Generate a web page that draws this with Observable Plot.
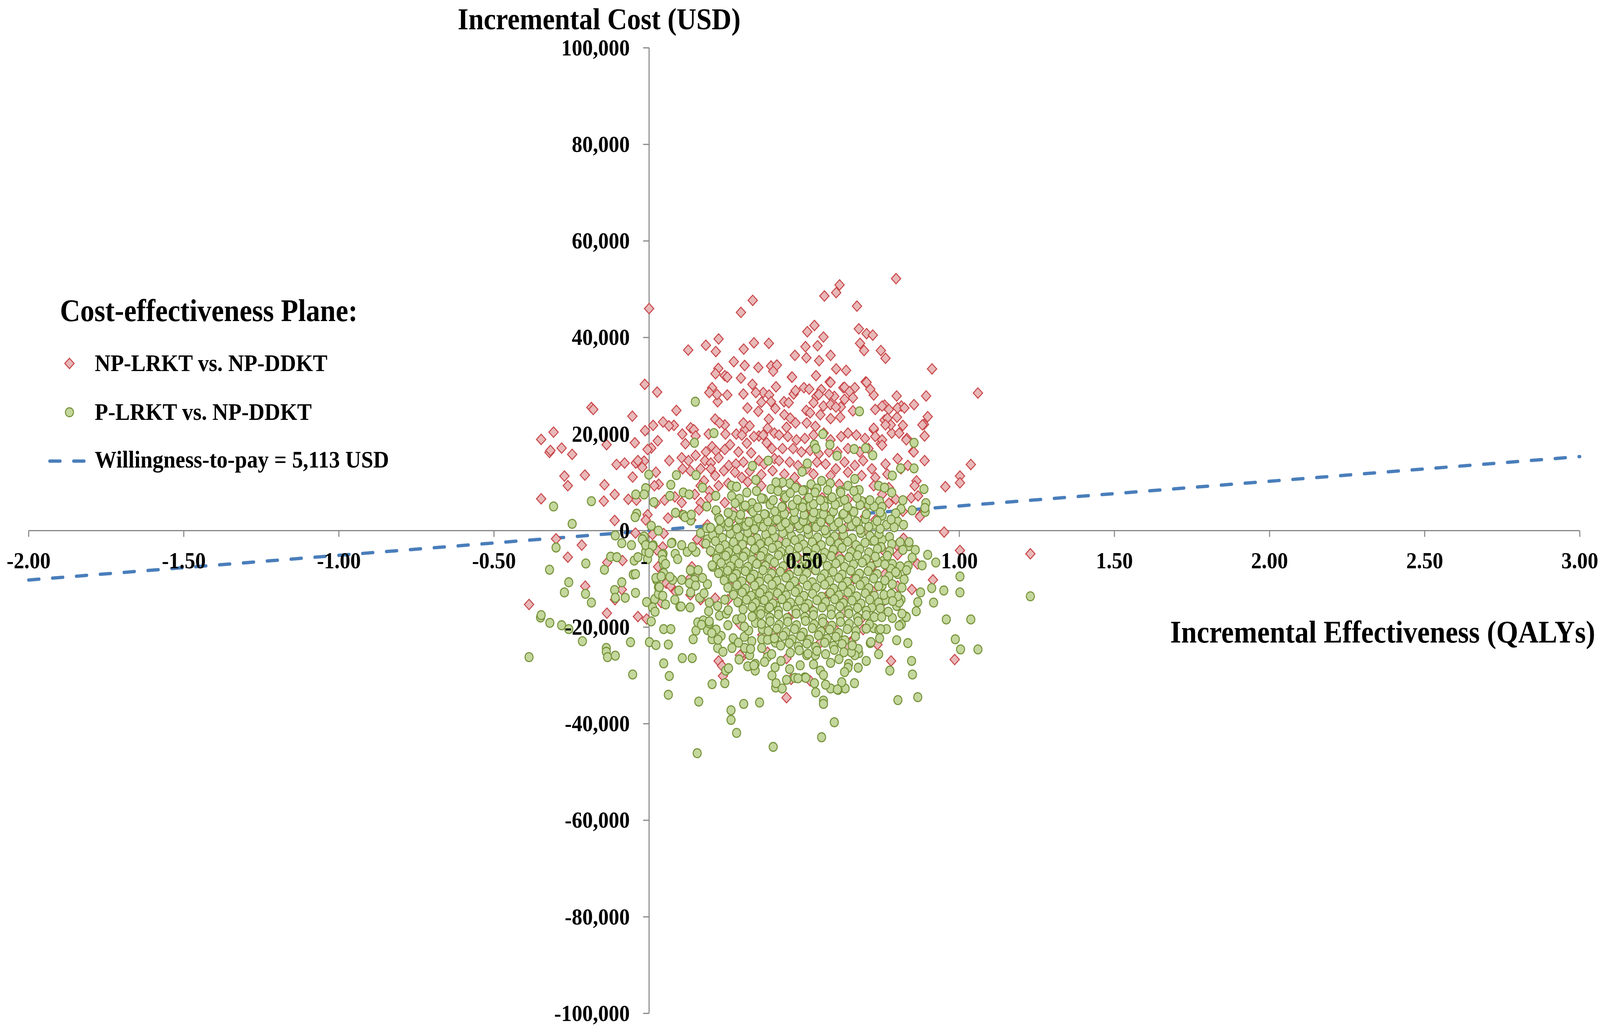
<!DOCTYPE html>
<html>
<head>
<meta charset="utf-8">
<script src="https://cdn.jsdelivr.net/npm/d3@7"></script>
<script src="https://cdn.jsdelivr.net/npm/@observablehq/plot@0.6"></script>
<style>
html,body{margin:0;padding:0;background:#ffffff;width:100%;height:100%;overflow:hidden;}
#chart{width:100vw;height:100vh;overflow:hidden;}
</style>
</head>
<body>
<div id="chart"></div>
<script>
// ---------- axes ----------
const xTicks = [-2, -1.5, -1, -0.5, 0, 0.5, 1, 1.5, 2, 2.5, 3];
const xTickLabels = ["-2.00", "-1.50", "-1.00", "-0.50", "-", "0.50", "1.00", "1.50", "2.00", "2.50", "3.00"];
const yTicks = [100000, 80000, 60000, 40000, 20000, 0, -20000, -40000, -60000, -80000, -100000];
const yTickLabels = ["100,000", "80,000", "60,000", "40,000", "20,000", "0", "-20,000", "-40,000", "-60,000", "-80,000", "-100,000"];

// ---------- willingness-to-pay line (5,113 USD per QALY) ----------
const wtpEff = [-2, 3];
const wtpCost = [-10226, 15339];

// ---------- NP-LRKT vs. NP-DDKT  [incremental QALYs, incremental cost in thousand USD] ----------
const npOuter = [[0.796,52.2],[0.614,50.9],[0.603,49.3],[0.565,48.6],[0.334,47.7],[0.296,45.2],[0.0,46.0],[0.670,46.5],[0.533,42.5],[0.510,41.2],[0.676,41.8],[0.701,40.8],[0.721,40.5],[0.562,40.1],[0.224,39.7],[0.338,38.9],[0.386,38.8],[0.183,38.4],[0.543,38.3],[0.680,38.8],[0.504,38.1],[0.126,37.4],[0.215,37.1],[0.305,37.6],[0.693,37.3],[0.747,37.3],[0.470,36.3],[0.507,35.8],[0.585,36.3],[0.762,35.7],[0.548,35.2],[0.273,35.0],[0.308,34.2],[0.352,33.8],[0.393,34.1],[0.412,34.3],[0.912,33.5],[0.603,33.5],[0.635,33.2],[0.223,33.6],[0.214,32.5],[0.244,32.1],[0.252,31.8],[0.460,31.8],[0.538,32.1],[0.400,33.0],[0.296,31.6],[0.582,30.8],[0.698,30.8],[-0.014,30.3],[0.333,30.3],[0.409,29.8],[0.499,29.6],[0.203,29.6],[0.555,29.2],[0.626,29.6],[0.663,29.6],[1.060,28.5],[0.026,28.7],[0.252,28.1],[0.304,28.3],[0.368,28.6],[0.466,28.3],[0.724,28.1],[0.798,27.9],[0.893,27.9],[0.597,27.8],[0.539,27.8],[0.221,26.7],[0.435,26.7],[0.759,26.0],[0.813,25.8],[0.854,26.1],[-0.186,25.5],[-0.180,25.1],[0.562,25.8],[0.618,25.6],[0.317,25.4],[-0.054,23.7],[0.088,24.9],[0.352,24.7],[0.507,24.9],[0.898,23.6],[0.799,23.5],[0.213,23.1],[0.386,23.1],[0.759,22.9],[0.045,22.5],[0.013,21.8],[0.080,21.8],[0.244,21.9],[0.134,21.3],[0.308,20.9],[0.443,21.4],[0.886,22.0],[-0.308,20.4],[-0.348,18.9],[-0.013,20.7],[0.107,20.0],[0.192,20.0],[0.354,19.6],[0.724,20.9],[0.782,20.2],[0.888,19.6],[0.831,19.1],[-0.137,17.8],[-0.046,18.2],[0.028,18.6],[0.117,18.0],[0.203,17.4],[0.261,17.8],[-0.282,17.1],[-0.321,16.2],[-0.318,16.6],[-0.248,15.8],[0.007,17.1],[0.851,16.4],[0.747,18.0],[-0.079,14.0],[-0.105,13.7],[-0.043,14.0],[-0.016,14.4],[0.065,14.5],[0.888,14.5],[1.037,13.7],[-0.273,11.3],[-0.207,11.5],[-0.053,11.1],[-0.144,9.5],[-0.262,9.3],[1.002,11.3],[1.002,9.9],[0.955,9.1],[-0.348,6.6],[-0.111,7.5],[-0.146,6.1],[-0.067,6.5],[0.021,5.7],[0.875,3.2],[-0.111,2.1],[0.951,-0.3],[-0.300,-1.7],[-0.217,-3.0],[-0.262,-5.5],[-0.086,-6.2],[1.002,-4.1],[0.915,-10.2],[-0.206,-11.5],[0.847,-12.2],[-0.387,-15.3],[-0.136,-17.1],[-0.036,-17.8],[0.985,-26.7],[0.780,-27.0],[0.443,-34.6],[0.736,-23.6],[0.649,-23.1],[0.224,-27.0],[0.238,-30.1],[0.296,-26.4],[0.443,-26.5]];
const npLowerLeft = [[-0.135,-6.6],[-0.088,-12.2],[-0.110,-14.3],[-0.008,-18.3],[-0.044,-0.5],[0.011,-0.8],[0.047,-0.6],[0.044,-3.4],[0.025,-4.0],[0.029,-7.5],[0.055,-10.9],[0.069,-11.5],[0.086,-12.7],[0.039,-14.9],[0.155,-1.8],[0.174,-2.6],[0.199,-4.3],[0.138,-7.5],[0.133,-9.8],[0.152,-9.6],[0.133,-13.3],[0.166,-14.3],[0.213,-14.0],[0.254,-14.3],[0.288,-1.8],[0.307,-2.4],[0.329,-1.3],[0.343,-5.9],[0.260,-8.5],[0.360,-12.0],[0.398,-7.2],[0.293,-19.4],[0.365,-21.6],[0.401,-21.3],[0.382,-25.2],[0.293,-25.8],[0.235,-28.0]];
const npLowerRight = [[0.820,-1.6],[0.798,-3.0],[0.801,-5.0],[0.757,-4.2],[1.229,-4.8],[0.865,-6.9],[0.801,-11.5],[0.665,-3.4],[0.613,-5.3],[0.450,-8.8],[0.721,-7.4],[0.682,-18.4],[0.748,-15.2],[0.599,-20.4],[0.652,-23.2],[0.638,-24.0],[0.458,-30.8],[0.519,-31.1],[0.552,-23.2],[0.630,-16.8]];
const npUpperLeft = [[0.194,28.6],[0.219,28.2],[0.344,28.6],[0.387,28.1],[0.362,26.6],[0.393,26.7],[0.407,25.3],[0.064,21.7],[0.144,20.9],[0.227,22.3],[0.304,22.3],[0.324,21.7],[0.382,21.2],[0.150,19.6],[0.246,20.0],[0.281,20.0],[0.299,19.8],[0.338,19.5],[0.368,19.8],[0.404,20.2],[0.315,18.1],[0.379,18.2],[0.183,16.3],[0.216,16.5],[0.244,16.8],[0.288,16.3],[0.329,16.1],[0.396,17.0],[-0.005,16.8],[0.105,15.1],[0.127,14.5],[0.150,15.6],[0.180,14.5],[0.199,14.0],[0.224,15.1],[0.257,13.5],[0.280,13.8],[0.304,14.2],[0.354,14.5],[0.371,13.8],[0.404,14.9],[-0.036,14.5],[-0.022,13.1],[0.022,12.1],[0.133,12.4],[0.166,12.8],[0.199,12.8],[0.108,12.8],[0.177,10.3],[0.213,11.4],[0.241,12.4],[0.277,12.1],[0.299,11.0],[0.324,12.3],[0.362,11.6],[0.398,12.4],[0.166,9.3],[0.194,8.2],[0.224,9.3],[0.255,9.8],[0.318,10.1],[0.362,9.3],[0.031,9.6],[0.017,9.3],[0.147,7.5],[0.083,7.0],[0.105,5.8],[0.166,5.8],[0.244,5.8],[0.321,4.7],[0.050,6.3],[-0.041,6.3],[0.194,6.8],[0.271,4.0],[0.161,4.3],[0.216,4.0],[0.061,2.6],[-0.005,3.3],[-0.011,2.2],[0.136,2.2],[0.188,1.2],[0.266,2.2],[0.315,1.7],[0.365,2.2],[0.105,3.3]];
const npUpperRight = [[0.461,31.8],[0.585,30.7],[0.630,29.7],[0.646,28.8],[0.701,30.7],[0.713,29.3],[0.472,29.0],[0.516,29.3],[0.547,28.2],[0.580,28.2],[0.630,27.2],[0.657,27.5],[0.450,26.5],[0.530,26.5],[0.585,26.1],[0.602,25.6],[0.616,23.5],[0.657,24.8],[0.729,25.1],[0.751,25.8],[0.773,25.1],[0.801,25.4],[0.823,25.4],[0.881,21.9],[0.436,24.0],[0.455,23.3],[0.519,24.4],[0.552,24.0],[0.585,23.2],[0.508,22.3],[0.472,22.3],[0.536,21.6],[0.768,23.3],[0.779,21.9],[0.818,21.8],[0.762,21.9],[0.724,21.2],[0.419,19.8],[0.447,19.5],[0.475,18.8],[0.502,19.1],[0.530,19.8],[0.563,20.2],[0.585,18.8],[0.619,19.5],[0.641,20.2],[0.668,19.8],[0.696,19.1],[0.729,19.5],[0.751,18.8],[0.806,20.2],[0.829,18.8],[0.430,17.0],[0.464,17.0],[0.491,16.3],[0.519,16.6],[0.547,15.9],[0.580,16.3],[0.607,16.3],[0.641,17.0],[0.679,16.3],[0.707,17.0],[0.751,17.7],[0.801,14.9],[0.853,16.3],[0.419,14.5],[0.453,14.2],[0.480,13.5],[0.508,12.8],[0.541,14.2],[0.569,13.8],[0.602,12.8],[0.630,14.2],[0.663,13.5],[0.690,14.5],[0.718,12.8],[0.762,13.8],[0.812,12.8],[0.834,13.5],[0.436,11.7],[0.469,11.0],[0.530,11.7],[0.585,11.4],[0.641,12.1],[0.685,11.4],[0.729,11.0],[0.768,11.7],[0.862,10.3],[0.856,9.3],[0.419,9.3],[0.475,9.3],[0.530,8.9],[0.613,9.6],[0.668,8.2],[0.724,9.3],[0.773,8.9],[0.795,6.5],[0.845,6.8],[0.867,7.2],[0.436,6.5],[0.502,6.1],[0.558,6.8],[0.641,6.5],[0.696,5.7],[0.751,7.5],[0.773,5.7],[0.873,2.9],[0.818,4.0],[0.442,4.0],[0.502,3.6],[0.563,4.0],[0.630,3.6],[0.696,2.9],[0.729,2.2]];
const npUnderCore = [[0.30,-3.5],[0.36,-6.0],[0.42,-2.0],[0.48,-5.5],[0.55,-3.0],[0.62,-1.0],[0.70,-6.0],[0.33,-10.5],[0.40,-14.0],[0.47,-11.0],[0.53,-8.0],[0.58,-13.0],[0.66,-10.0],[0.72,-12.5],[0.45,-18.0],[0.52,-16.0],[0.57,-19.5],[0.63,-14.5],[0.69,-20.5],[0.50,-22.0],[0.40,-8.5],[0.26,-11.5],[0.76,-9.0],[0.35,-17.0],[0.61,-6.5],[0.46,1.0],[0.52,0.5],[0.58,2.0],[0.64,1.0],[0.70,0.0],[0.34,0.5],[0.40,1.5]];

// ---------- P-LRKT vs. NP-DDKT  [incremental QALYs, incremental cost in thousand USD] ----------
const pOuter = [[0.149,26.7],[0.678,24.7],[0.209,20.2],[0.146,18.2],[0.560,20.0],[0.533,17.8],[0.583,17.8],[0.661,16.9],[0.854,18.2],[0.698,17.1],[0.721,15.6],[0.606,15.5],[0.384,14.5],[0.510,13.9],[0.333,13.4],[0.811,12.9],[0.854,12.9],[0.784,11.4],[0.493,12.2],[-0.001,11.6],[0.088,11.5],[0.151,11.5],[0.886,8.6],[0.892,5.7],[0.890,3.9],[-0.308,5.0],[-0.186,6.1],[-0.248,1.4],[0.015,5.9],[-0.043,7.5],[-0.011,8.8],[-0.016,7.5],[0.070,9.5],[0.067,7.2],[0.110,7.9],[0.129,7.5],[0.085,3.7],[-0.040,3.5],[-0.045,2.8],[0.111,3.2],[0.134,2.1],[0.186,5.0],[0.215,7.2],[-0.109,-1.0],[-0.088,-2.6],[-0.300,-3.5],[-0.057,-3.0],[-0.016,-2.3],[0.007,1.0],[-0.016,-1.2],[0.030,0.0],[0.013,-3.0],[0.074,-2.5],[0.105,-3.0],[-0.011,-4.4],[-0.005,-5.9],[0.045,-4.8],[0.084,-4.8],[0.123,-4.4],[0.151,-4.4],[-0.204,-6.8],[-0.321,-8.1],[-0.144,-8.1],[-0.124,-5.4],[-0.104,-5.5],[-0.048,-6.2],[-0.051,-9.1],[0.047,-7.0],[0.047,-8.8],[0.024,-10.2],[0.030,-11.7],[0.076,-10.2],[0.105,-10.2],[0.136,-8.4],[0.146,-10.2],[0.096,-12.4],[0.134,-12.8],[-0.259,-10.7],[-0.273,-12.8],[-0.205,-13.1],[-0.186,-14.9],[-0.111,-12.3],[-0.109,-13.9],[-0.077,-13.9],[-0.044,-12.9],[-0.008,-14.8],[0.018,-14.2],[0.030,-13.1],[0.053,-15.3],[0.099,-15.7],[0.132,-15.9],[-0.350,-18.0],[-0.348,-17.5],[-0.320,-19.1],[-0.282,-19.6],[-0.259,-20.4],[0.007,-18.8],[0.047,-20.4],[0.070,-20.4],[-0.215,-22.9],[-0.060,-23.1],[0.001,-23.1],[0.022,-23.7],[0.062,-23.6],[-0.138,-24.3],[-0.138,-25.1],[-0.134,-26.2],[-0.109,-25.9],[-0.387,-26.2],[-0.053,-29.8],[0.047,-27.5],[0.065,-30.1],[0.107,-26.4],[0.139,-26.4],[0.142,-22.5],[0.151,-20.7],[0.157,-19.0],[0.175,-18.6],[0.062,-34.0],[0.160,-35.4],[0.203,-31.8],[0.244,-31.6],[0.247,-29.0],[0.256,-28.5],[0.264,-37.2],[0.264,-39.2],[0.282,-41.9],[0.305,-35.9],[0.356,-35.6],[0.155,-46.1],[0.400,-44.8],[0.556,-42.8],[0.597,-39.7],[0.562,-35.2],[0.562,-35.9],[0.537,-33.5],[0.802,-35.1],[0.866,-34.5],[0.849,-29.8],[0.846,-27.0],[0.776,-29.0],[0.798,-22.7],[0.834,-23.3],[1.060,-24.6],[1.004,-24.6],[0.987,-22.5],[1.037,-18.4],[0.958,-18.4],[1.002,-12.8],[1.002,-9.5],[0.950,-12.4],[0.917,-14.9],[0.911,-11.9],[0.875,-12.8],[0.866,-14.8],[0.861,-16.7],[0.880,-7.2],[0.898,-5.0],[0.924,-6.6],[0.828,-17.8],[0.813,-19.4],[0.724,-20.2],[0.741,-20.6],[0.713,-23.3],[0.676,-25.4],[0.643,-27.6],[0.662,-31.6],[0.632,-32.7],[0.609,-33.0],[0.585,-32.7],[0.533,-31.6],[0.502,-30.4],[0.470,-30.5],[0.443,-30.9],[0.408,-32.5],[0.429,-32.7],[0.406,-28.3],[0.381,-26.2],[0.342,-29.0],[0.342,-27.6],[0.290,-26.7],[0.267,-24.3],[0.308,-24.3],[0.331,-22.9],[0.363,-24.3],[0.363,-22.5],[0.203,-22.5],[0.221,-24.3],[0.238,-25.1],[0.232,-21.8],[0.188,-20.6],[0.169,-19.5],[0.192,-16.7],[1.229,-13.6]];
const pLowerRight = [[0.743,-22.3],[0.715,-23.1],[0.765,-20.4],[0.746,-20.4],[0.806,-19.7],[0.829,-17.9],[0.815,-17.2],[0.784,-18.1],[0.771,-16.8],[0.798,-15.6],[0.812,-14.3],[0.806,-14.9],[0.801,-13.6],[0.762,-14.4],[0.726,-17.9],[0.718,-15.9],[0.729,-14.3],[0.757,-13.3],[0.801,-9.0],[0.809,-7.4],[0.784,-6.9],[0.779,-7.9],[0.754,-6.3],[0.737,-6.6],[0.718,-2.1],[0.751,-1.9],[0.748,-3.4],[0.809,-2.4],[0.837,-3.2],[0.818,-4.0],[0.773,-9.5],[0.751,-11.4],[0.784,-11.1],[0.674,-24.5],[0.663,-25.8],[0.652,-25.2],[0.674,-28.4],[0.641,-28.4],[0.630,-29.3],[0.621,-31.4],[0.607,-32.9],[0.569,-31.9],[0.552,-29.0],[0.530,-27.7],[0.505,-30.5],[0.480,-30.6],[0.508,-25.8],[0.536,-25.8],[0.453,-28.7],[0.372,-27.2],[0.425,-27.0],[0.487,-27.9],[0.585,-27.4],[0.612,-26.6],[0.318,-28.1],[0.395,-25.6],[0.562,-29.9],[0.700,-27.0],[0.740,-25.6]];
const pLowerLeft = [[-0.088,-10.7],[-0.044,-9.0],[-0.036,-5.5],[0.011,-15.9],[0.019,-16.8],[0.194,-19.2],[0.216,-20.5],[0.202,-21.2],[0.222,-22.6],[0.271,-22.3],[0.288,-23.2],[0.338,-27.9],[0.324,-25.8],[0.327,-24.5],[0.396,-30.0],[0.409,-31.6],[0.307,-22.0],[0.321,-20.7],[0.307,-19.9],[0.282,-18.4],[0.254,-19.6],[0.227,-17.6],[0.249,-17.2],[0.340,-17.6],[0.365,-20.4],[0.382,-22.6],[0.407,-23.2],[0.343,-19.1],[-0.022,-1.8],[-0.011,-3.0],[0.011,-3.2],[0.0,-4.6],[0.042,-5.0],[0.044,-6.1],[0.053,-6.9],[0.022,-9.8],[0.033,-11.7],[0.039,-9.5],[0.067,-9.6],[0.044,-13.5],[0.083,-14.3],[0.103,-15.7],[0.072,-2.6],[0.139,-3.4],[0.092,-5.9],[0.133,-8.2],[0.158,-8.2],[0.130,-10.9],[0.150,-11.4],[0.163,-13.9],[0.177,-13.0],[0.188,-11.1],[0.172,-9.8],[0.194,-14.9],[0.205,-7.5],[0.216,-5.0],[0.244,-4.3],[0.266,-3.4],[0.282,-5.6],[0.255,-6.2],[0.232,-8.5],[0.260,-9.8],[0.293,-10.7],[0.271,-12.7],[0.244,-14.3],[0.221,-15.6],[0.255,-16.5],[0.288,-14.9],[0.315,-13.9],[0.343,-13.0],[0.365,-14.3],[0.326,-9.8],[0.354,-9.5],[0.371,-7.5],[0.382,-5.6],[0.393,-9.8],[0.398,-12.3],[0.382,-16.2],[0.354,-16.8],[0.409,-15.6],[0.326,-5.0],[0.349,-3.4],[0.376,-2.1],[0.304,-1.8],[0.288,-8.2],[0.321,-7.9],[0.221,-1.4],[0.188,-1.8],[0.166,-0.5],[0.194,-18.8],[0.299,-18.1]];
const pUpperRight = [[0.538,17.0],[0.556,10.3],[0.584,9.8],[0.663,10.7],[0.453,9.8],[0.472,8.9],[0.522,9.6],[0.500,8.4],[0.541,8.7],[0.616,8.2],[0.641,9.3],[0.677,8.4],[0.740,9.3],[0.759,8.9],[0.782,7.9],[0.889,4.7],[0.818,6.3],[0.812,4.5],[0.848,4.2],[0.743,6.1],[0.751,4.9],[0.707,5.4],[0.685,6.1],[0.657,4.0],[0.585,6.5],[0.563,6.1],[0.613,5.9],[0.519,5.0],[0.494,5.7],[0.472,4.7],[0.436,7.3],[0.430,5.0],[0.547,3.5],[0.585,3.1],[0.624,3.3],[0.464,2.2],[0.508,2.2],[0.536,1.2],[0.602,1.2],[0.674,1.5],[0.726,1.2],[0.765,1.2],[0.801,1.9],[0.820,1.2],[0.751,3.1],[0.795,3.6],[0.419,2.9],[0.430,10.0],[0.453,0.5],[0.486,0.5]];
const pUpperLeft = [[0.344,10.5],[0.409,10.0],[0.172,8.9],[0.266,9.3],[0.282,9.1],[0.266,7.2],[0.291,6.6],[0.277,5.7],[0.315,7.9],[0.346,8.2],[0.368,6.6],[0.332,5.7],[0.390,5.7],[0.393,8.6],[0.216,4.2],[0.304,4.9],[0.332,4.3],[0.376,3.3],[0.271,3.1],[0.299,1.9],[0.337,1.9],[0.224,2.6],[0.232,1.5],[0.116,2.8],[0.136,3.3],[0.186,0.5],[0.260,0.6],[0.288,0.6],[0.360,1.4],[0.404,2.2]];
const pCore = [
[0.205,-0.9],[0.236,-1.5],[0.262,-0.6],[0.291,-1.2],[0.318,-0.4],[0.347,-1.6],[0.376,-0.8],[0.404,-1.3],[0.431,-0.5],[0.459,-1.1],[0.487,-1.7],[0.514,-0.7],[0.543,-1.4],[0.571,-0.6],[0.598,-1.2],[0.627,-0.9],[0.655,-1.6],[0.683,-0.5],[0.712,-1.1],[0.741,-0.7],[0.775,-1.3],
[0.183,-2.7],[0.214,-2.2],[0.245,-3.0],[0.272,-2.4],[0.301,-2.9],[0.329,-2.1],[0.358,-2.8],[0.386,-2.3],[0.415,-3.1],[0.442,-2.5],[0.470,-2.0],[0.498,-2.9],[0.526,-2.4],[0.555,-3.0],[0.583,-2.2],[0.611,-2.7],[0.640,-2.3],[0.667,-3.0],[0.696,-2.5],[0.726,-2.1],[0.782,-2.8],[0.838,-2.4],
[0.198,-4.2],[0.227,-3.7],[0.256,-4.4],[0.283,-3.9],[0.312,-4.5],[0.340,-3.8],[0.369,-4.3],[0.397,-3.6],[0.425,-4.4],[0.453,-4.0],[0.481,-3.5],[0.509,-4.3],[0.537,-3.8],[0.566,-4.6],[0.594,-4.0],[0.622,-3.6],[0.651,-4.4],[0.679,-3.9],[0.708,-4.5],[0.736,-3.8],[0.775,-4.3],[0.858,-4.0],
[0.218,-5.8],[0.247,-5.2],[0.275,-6.0],[0.304,-5.4],[0.332,-6.1],[0.360,-5.3],[0.389,-5.9],[0.417,-5.1],[0.446,-5.8],[0.474,-5.4],[0.502,-6.1],[0.530,-5.2],[0.559,-5.7],[0.587,-5.3],[0.616,-6.0],[0.644,-5.5],[0.672,-5.1],[0.700,-5.9],[0.729,-5.4],[0.768,-5.2],[0.848,-5.6],
[0.203,-7.2],[0.232,-6.7],[0.262,-7.4],[0.290,-6.8],[0.318,-7.5],[0.347,-6.9],[0.375,-7.3],[0.404,-6.6],[0.432,-7.4],[0.460,-6.9],[0.489,-7.6],[0.517,-7.0],[0.545,-6.6],[0.574,-7.3],[0.602,-6.8],[0.630,-7.5],[0.659,-7.0],[0.687,-6.6],[0.715,-7.4],[0.760,-7.0],[0.835,-7.3],
[0.224,-8.8],[0.253,-8.3],[0.281,-9.0],[0.310,-8.4],[0.338,-9.1],[0.367,-8.2],[0.395,-8.9],[0.423,-8.5],[0.452,-9.2],[0.480,-8.4],[0.508,-8.8],[0.537,-8.2],[0.565,-9.0],[0.593,-8.5],[0.622,-9.1],[0.650,-8.3],[0.678,-8.9],[0.706,-8.4],[0.735,-9.0],[0.795,-8.6],[0.830,-8.2],
[0.242,-10.3],[0.270,-9.8],[0.299,-10.5],[0.327,-9.9],[0.356,-10.6],[0.384,-10.0],[0.412,-10.4],[0.441,-9.7],[0.469,-10.5],[0.497,-10.1],[0.526,-10.7],[0.554,-9.9],[0.582,-10.4],[0.611,-9.8],[0.639,-10.6],[0.667,-10.0],[0.696,-10.5],[0.724,-9.9],[0.760,-10.3],[0.822,-10.1],
[0.254,-11.8],[0.283,-11.3],[0.311,-12.0],[0.340,-11.4],[0.368,-12.1],[0.396,-11.2],[0.425,-11.9],[0.453,-11.5],[0.481,-12.2],[0.510,-11.4],[0.538,-11.8],[0.566,-11.2],[0.595,-12.0],[0.623,-11.5],[0.651,-12.1],[0.680,-11.3],[0.708,-11.9],[0.740,-11.5],[0.815,-11.8],
[0.272,-13.3],[0.300,-12.8],[0.329,-13.5],[0.357,-12.9],[0.386,-13.6],[0.414,-13.0],[0.442,-13.4],[0.471,-12.7],[0.499,-13.5],[0.527,-13.1],[0.556,-13.7],[0.584,-12.9],[0.612,-13.4],[0.641,-12.8],[0.669,-13.6],[0.697,-13.0],[0.726,-13.5],[0.780,-13.1],
[0.286,-14.8],[0.314,-14.3],[0.343,-15.0],[0.371,-14.4],[0.399,-15.1],[0.428,-14.2],[0.456,-14.9],[0.484,-14.5],[0.513,-15.2],[0.541,-14.4],[0.569,-14.8],[0.598,-14.2],[0.626,-15.0],[0.654,-14.5],[0.683,-15.1],[0.711,-14.3],[0.740,-14.9],[0.785,-14.6],
[0.303,-16.3],[0.332,-15.8],[0.360,-16.5],[0.388,-15.9],[0.417,-16.6],[0.445,-15.7],[0.473,-16.4],[0.502,-16.0],[0.530,-16.7],[0.558,-15.9],[0.587,-16.3],[0.615,-15.7],[0.643,-16.5],[0.672,-16.0],[0.700,-16.6],[0.745,-16.1],
[0.332,-17.8],[0.360,-17.3],[0.389,-18.0],[0.417,-17.4],[0.445,-18.1],[0.474,-17.2],[0.502,-17.9],[0.530,-17.5],[0.559,-18.2],[0.587,-17.4],[0.615,-17.8],[0.644,-17.2],[0.672,-18.0],[0.700,-17.5],[0.750,-17.9],
[0.362,-19.3],[0.390,-18.8],[0.419,-19.5],[0.447,-18.9],[0.475,-19.6],[0.504,-18.7],[0.532,-19.4],[0.560,-19.0],[0.589,-19.7],[0.617,-18.9],[0.645,-19.3],[0.674,-18.8],[0.710,-19.4],
[0.384,-20.8],[0.412,-20.3],[0.441,-21.0],[0.469,-20.4],[0.497,-21.1],[0.526,-20.2],[0.554,-20.9],[0.582,-20.5],[0.611,-21.2],[0.639,-20.4],[0.667,-20.8],[0.700,-20.3],
[0.404,-22.3],[0.432,-21.8],[0.461,-22.5],[0.489,-21.9],[0.517,-22.6],[0.546,-21.7],[0.574,-22.4],[0.602,-22.0],[0.631,-22.7],[0.665,-21.9],
[0.424,-23.8],[0.452,-23.3],[0.481,-24.0],[0.509,-23.4],[0.537,-24.1],[0.566,-23.2],[0.594,-23.9],[0.622,-23.5],[0.655,-23.8],
[0.455,-25.3],[0.484,-24.8],[0.512,-25.5],[0.541,-24.9],[0.569,-25.6],[0.597,-24.7],[0.628,-25.2],
[0.198,0.6],[0.226,0.2],[0.255,0.9],[0.283,0.4],[0.312,1.0],[0.340,0.3],[0.368,0.8],[0.397,0.1],[0.425,0.9],[0.453,0.5],[0.482,1.1],[0.510,0.3],[0.538,0.7],[0.567,0.1],[0.595,0.9],[0.623,0.4],[0.652,1.0],[0.680,0.2],[0.708,0.8],[0.745,0.4],[0.790,0.7],
[0.228,2.2],[0.257,1.7],[0.290,2.4],[0.322,1.8],[0.351,2.5],[0.383,1.9],[0.412,2.3],[0.440,1.6],[0.469,2.4],[0.497,2.0],[0.526,2.6],[0.554,1.8],[0.582,2.3],[0.611,1.7],[0.640,2.5],[0.668,1.9],[0.697,2.4],[0.735,2.0],[0.780,2.3],
[0.255,3.7],[0.295,3.3],[0.335,3.9],[0.372,3.4],[0.405,4.0],[0.436,3.5],[0.468,3.9],[0.500,3.3],[0.531,3.8],[0.562,3.4],[0.594,4.0],[0.627,3.5],[0.660,3.9],[0.700,3.4],[0.745,3.8],
[0.310,5.2],[0.350,4.8],[0.390,5.4],[0.428,4.9],[0.462,5.3],[0.495,4.8],[0.530,5.5],[0.565,5.0],[0.600,5.4],[0.640,4.9],[0.680,5.3],[0.725,5.0],
[0.362,6.7],[0.400,6.3],[0.440,6.9],[0.478,6.4],[0.515,6.8],[0.552,6.3],[0.590,6.9],[0.630,6.4],[0.670,6.8],[0.712,6.3],
[0.415,8.2],[0.455,7.8],[0.495,8.3],[0.535,7.9],[0.575,8.4],[0.618,7.9],[0.660,8.2]
];

// ---------- texts ----------
const legendTitle = "Cost-effectiveness Plane:";
const seriesNames = ["NP-LRKT vs. NP-DDKT", "P-LRKT vs. NP-DDKT", "Willingness-to-pay = 5,113 USD"];
const xTitle = "Incremental Effectiveness (QALYs)";
const yTitle = "Incremental Cost (USD)";

// ---------- build ----------
const npData = [...npOuter, ...npLowerLeft, ...npLowerRight, ...npUpperLeft, ...npUpperRight, ...npUnderCore]
  .map(([e, c]) => ({eff: e, cost: c * 1000}));
const pData = [...pOuter, ...pLowerRight, ...pLowerLeft, ...pUpperRight, ...pUpperLeft, ...pCore]
  .map(([e, c]) => ({eff: e, cost: c * 1000}));
const wtpData = wtpEff.map((e, i) => ({eff: e, cost: wtpCost[i]}));
const xTickData = xTicks.map((v, i) => ({v, label: xTickLabels[i]}));
const yTickData = yTicks.map((v, i) => ({v, label: yTickLabels[i]}));

const axisGray = "#878787";
const redFill = "#e8b8b8", redStroke = "#c9474a";
const greenFill = "#c4d79c", greenStroke = "#76933a";
const blue = "#4a7ebb";
const font = "'Liberation Serif', 'Times New Roman', Times, serif";
const dash = {stroke: blue, strokeWidth: 8.5, strokeDasharray: "29.5,38.5", strokeLinecap: "round"};

const tickDown = {draw(c) { c.moveTo(0, 0); c.lineTo(0, 16); }};
const tickLeft = {draw(c) { c.moveTo(0, 0); c.lineTo(-17, 0); }};
const dashSym = {draw(c) { c.moveTo(-50, 0); c.lineTo(52, 0); }};

const W = 4550, H = 2637;
const mL = 81, mT = 122;
const bold = {fontWeight: "bold", fill: "#000"};
const legendText = {frameAnchor: "top-left", textAnchor: "start", lineAnchor: "middle", ...bold};

const chart = Plot.plot({
  width: W,
  height: H,
  marginLeft: mL,
  marginRight: 58,
  marginTop: mT,
  marginBottom: 43,
  style: {fontFamily: font, background: "#ffffff", color: "#000"},
  x: {domain: [-2, 3], axis: null},
  y: {domain: [-100000, 100000], axis: null},
  marks: [
    Plot.ruleY([0], {stroke: axisGray, strokeWidth: 3}),
    Plot.ruleX([0], {stroke: axisGray, strokeWidth: 3}),
    Plot.dot(xTicks, {x: d => d, y: 0, symbol: tickDown, r: 1, stroke: axisGray, strokeWidth: 3, fill: "none"}),
    Plot.dot(yTicks, {x: 0, y: d => d, symbol: tickLeft, r: 1, stroke: axisGray, strokeWidth: 3, fill: "none"}),
    Plot.line(wtpData, {x: "eff", y: "cost", ...dash}),
    Plot.dot(npData, {x: "eff", y: "cost", symbol: "diamond2", r: 12, fill: redFill, stroke: redStroke, strokeWidth: 2.7}),
    Plot.dot(pData, {x: "eff", y: "cost", symbol: "circle", r: 11.5, fill: greenFill, stroke: greenStroke, strokeWidth: 2.8}),
    Plot.text(xTickData.filter(d => d.v !== 0), {x: "v", y: 0, text: "label", dy: 77, fontSize: 60, ...bold}),
    Plot.text(xTickData.filter(d => d.v === 0), {x: "v", y: 0, text: "label", dy: 77, dx: -14, fontSize: 60, ...bold}),
    Plot.text(yTickData, {x: 0, y: "v", text: "label", dx: -55, textAnchor: "end", fontSize: 60, ...bold}),
    Plot.text([yTitle], {x: 0, y: 100000, dx: -142, dy: -72, lineAnchor: "middle", fontSize: 78, ...bold}),
    Plot.text([xTitle], {x: 3, y: 0, dx: 44, dy: 261, textAnchor: "end", lineAnchor: "middle", fontSize: 80, ...bold}),
    // legend
    Plot.text([legendTitle], {...legendText, dx: 170 - mL, dy: 796 - mT, fontSize: 80}),
    Plot.dot([0], {frameAnchor: "top-left", dx: 197 - mL, dy: 930 - mT, symbol: "diamond2", r: 12, fill: redFill, stroke: redStroke, strokeWidth: 2.7}),
    Plot.dot([0], {frameAnchor: "top-left", dx: 197 - mL, dy: 1055 - mT, symbol: "circle", r: 11.5, fill: greenFill, stroke: greenStroke, strokeWidth: 2.8}),
    Plot.dot([0], {frameAnchor: "top-left", dx: 191 - mL, dy: 1180 - mT, symbol: dashSym, r: 1, fill: "none", ...dash}),
    Plot.text([seriesNames[0]], {...legendText, dx: 269 - mL, dy: 930 - mT, fontSize: 62}),
    Plot.text([seriesNames[1]], {...legendText, dx: 269 - mL, dy: 1055 - mT, fontSize: 62}),
    Plot.text([seriesNames[2]], {...legendText, dx: 269 - mL, dy: 1177 - mT, fontSize: 62})
  ]
});
// let the drawing fill the whole browser window
chart.setAttribute("viewBox", `0 0 ${W} ${H}`);
chart.setAttribute("preserveAspectRatio", "none");
chart.style.display = "block";
chart.style.width = "100vw";
chart.style.height = "100vh";
chart.style.maxWidth = "none";
document.getElementById("chart").appendChild(chart);
</script>
</body>
</html>
